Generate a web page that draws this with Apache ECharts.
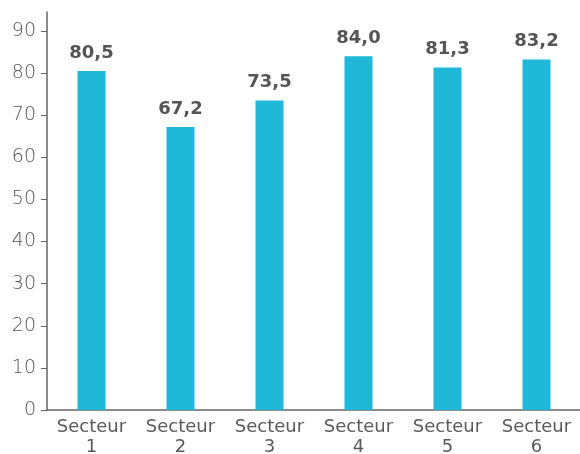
<!DOCTYPE html>
<html>
<head>
<meta charset="utf-8">
<script src="https://cdn.jsdelivr.net/npm/echarts@6/dist/echarts.min.js"></script>
<style>
  html, body { margin: 0; padding: 0; background: #fff; }
  #chart { width: 580px; height: 454px; }
</style>
</head>
<body>
<div id="chart"></div>
<script>
// données
const categories = ['Secteur\n1', 'Secteur\n2', 'Secteur\n3', 'Secteur\n4', 'Secteur\n5', 'Secteur\n6']
const values = [80.5, 67.2, 73.5, 84.0, 81.3, 83.2]
const yTicks = [0, 10, 20, 30, 40, 50, 60, 70, 80, 90]

const chart = echarts.init(document.getElementById('chart'))

chart.setOption({
  animation: false,
  grid: { left: 47, right: -1, top: 12, bottom: 44, outerBoundsMode: 'none', containLabel: false },
  xAxis: {
    type: 'category',
    data: categories,
    axisLine: { lineStyle: { color: '#666', width: 1.5 } },
    axisTick: { show: false },
    axisLabel: {
      color: '#5a5a5a',
      fontSize: 18,
      fontFamily: 'DejaVu Sans',
      lineHeight: 20,
      margin: 7,
      interval: 0
    }
  },
  yAxis: {
    type: 'value',
    min: 0,
    max: 94.5,
    splitLine: { show: false },
    axisLine: { show: true, lineStyle: { color: '#666', width: 1.5 } },
    axisTick: { show: true, length: 6, lineStyle: { color: '#666' }, customValues: yTicks },
    axisLabel: {
      customValues: yTicks,
      color: '#555',
      fontSize: 19,
      fontWeight: 200,
      fontFamily: 'DejaVu Sans',
      margin: 11
    }
  },
  series: [{
    type: 'bar',
    data: values,
    barWidth: 28,
    itemStyle: { color: '#1FB8D8' },
    label: {
      show: true,
      position: 'top',
      distance: 9,
      color: '#555',
      fontSize: 18,
      fontWeight: 'bold',
      fontFamily: 'DejaVu Sans',
      formatter: p => p.value.toFixed(1).replace('.', ',')
    }
  }]
})
</script>
</body>
</html>
